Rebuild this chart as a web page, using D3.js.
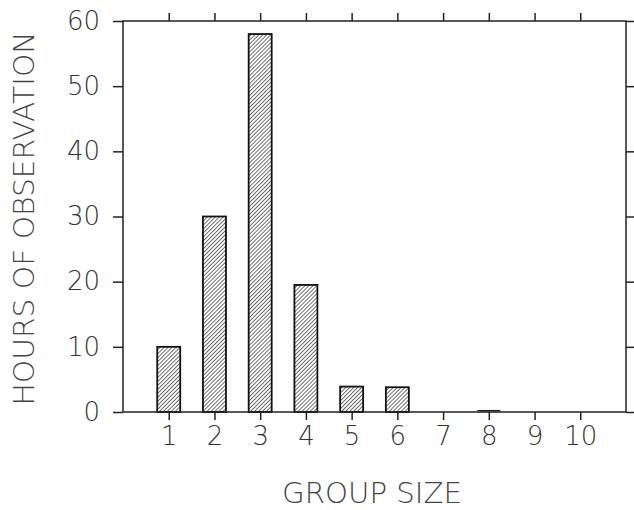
<!DOCTYPE html>
<html>
<head>
    <script src="https://d3js.org/d3.v7.min.js"></script>
    <style>
        body { margin: 0; background: #fff; }
        svg { display: block; }
        .axis text { font-family: "DejaVu Sans", sans-serif; font-weight: 200; fill: #333; }
        .axis path, .axis line { stroke: #222; stroke-width: 1.5; }
    </style>
</head>
<body>
    <svg width="634" height="510"></svg>
    <script>
        // data
        const groupSizes = [1, 2, 3, 4, 5, 6, 7, 8, 9, 10];
        const hours = [10, 30, 58, 19.5, 3.9, 3.8, 0, 0.2, 0, 0];
        const yTicks = [0, 10, 20, 30, 40, 50, 60];

        const plotLeft = 123, plotRight = 626, plotTop = 21, plotBottom = 412;

        const svg = d3.select("svg");

        const x = d3.scaleLinear().domain([0, 11]).range([plotLeft, plotRight]);
        const y = d3.scaleLinear().domain([0, 60]).range([plotBottom, plotTop]);
        const barW = 23;

        // hatch pattern
        const defs = svg.append("defs");
        const pat = defs.append("pattern")
            .attr("id", "hatch")
            .attr("patternUnits", "userSpaceOnUse")
            .attr("width", 2.8)
            .attr("height", 2.8)
            .attr("patternTransform", "rotate(45)");
        pat.append("rect").attr("width", 2.8).attr("height", 2.8).attr("fill", "#fff");
        pat.append("line")
            .attr("x1", 0).attr("y1", 0).attr("x2", 0).attr("y2", 2.8)
            .attr("stroke", "#222").attr("stroke-width", 1.3);

        const rows = groupSizes.map((g, i) => ({g: g, v: hours[i]}));

        // bars
        svg.selectAll(".bar")
            .data(rows.filter(d => d.v > 0.5))
            .enter().append("rect")
            .attr("class", "bar")
            .attr("x", d => x(d.g) - barW / 2)
            .attr("y", d => y(d.v))
            .attr("width", barW)
            .attr("height", d => y(0) - y(d.v))
            .attr("fill", "url(#hatch)")
            .attr("stroke", "#111")
            .attr("stroke-width", 1.8);

        // tiny value at 8
        svg.selectAll(".tiny")
            .data(rows.filter(d => d.v > 0 && d.v <= 0.5))
            .enter().append("line")
            .attr("x1", d => x(d.g) - barW / 2)
            .attr("x2", d => x(d.g) + barW / 2)
            .attr("y1", d => y(d.v))
            .attr("y2", d => y(d.v))
            .attr("stroke", "#222")
            .attr("stroke-width", 1.5);

        // axes
        const xBottom = svg.append("g")
            .attr("class", "axis")
            .attr("transform", `translate(0,${plotBottom})`)
            .call(d3.axisBottom(x).tickValues(groupSizes).tickSize(8).tickPadding(7).tickSizeOuter(0).tickFormat(d3.format("d")));
        xBottom.select(".domain").remove();
        xBottom.selectAll("text").style("font-size", "26px");

        const xTop = svg.append("g")
            .attr("class", "axis")
            .attr("transform", `translate(0,${plotTop})`)
            .call(d3.axisTop(x).tickValues(groupSizes).tickSize(8).tickFormat(""));
        xTop.select(".domain").remove();

        const yLeft = svg.append("g")
            .attr("class", "axis")
            .attr("transform", `translate(${plotLeft},0)`)
            .call(d3.axisLeft(y).tickValues(yTicks).tickSize(10).tickPadding(13).tickSizeOuter(0));
        yLeft.select(".domain").remove();
        yLeft.selectAll("text").style("font-size", "26px");

        const yRight = svg.append("g")
            .attr("class", "axis")
            .attr("transform", `translate(${plotRight},0)`)
            .call(d3.axisRight(y).tickValues(yTicks).tickSize(8).tickFormat(""));
        yRight.select(".domain").remove();

        // frame
        svg.append("rect")
            .attr("x", plotLeft).attr("y", plotTop)
            .attr("width", plotRight - plotLeft).attr("height", plotBottom - plotTop)
            .attr("fill", "none").attr("stroke", "#222").attr("stroke-width", 1.5);

        // axis titles
        svg.append("text")
            .attr("transform", `translate(34,${(plotTop + plotBottom) / 2 + 2}) rotate(-90)`)
            .attr("text-anchor", "middle")
            .attr("textLength", 374)
            .attr("lengthAdjust", "spacingAndGlyphs")
            .style("font-family", "'DejaVu Sans', sans-serif")
            .style("font-weight", 200)
            .style("font-size", "29px")
            .style("fill", "#444")
            .text("HOURS OF OBSERVATION");

        svg.append("text")
            .attr("x", 372)
            .attr("y", 503)
            .attr("text-anchor", "middle")
            .attr("textLength", 180)
            .attr("lengthAdjust", "spacingAndGlyphs")
            .style("font-family", "'DejaVu Sans', sans-serif")
            .style("font-weight", 200)
            .style("font-size", "29px")
            .style("fill", "#444")
            .text("GROUP SIZE");
    </script>
</body>
</html>
